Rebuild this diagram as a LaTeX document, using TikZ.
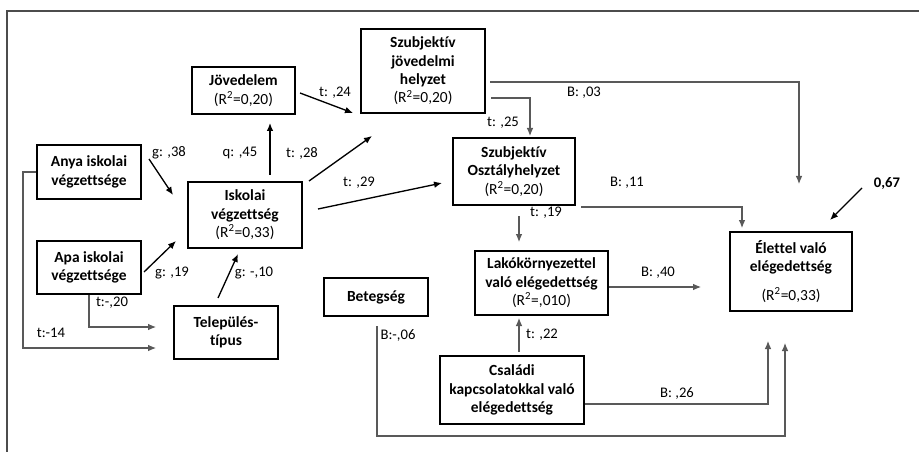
\documentclass[tikz,border=0pt]{standalone}
\usepackage{fontspec}
\setmainfont[Ligatures=NoCommon]{Carlito}
\usetikzlibrary{arrows.meta}

\begin{document}
\begin{tikzpicture}[x=0.75pt,y=-0.75pt,font=\fontsize{11pt}{13.8pt}\selectfont]
\tikzstyle{block} = [rectangle, draw=black, line width=1.5pt, align=center, inner sep=1pt,
font=\fontsize{11.6pt}{13.8pt}\selectfont]
\tikzstyle{coef} = [inner sep=0pt]
\tikzstyle{line} = [draw=black, line width=1pt, -{Latex[length=6pt,width=5pt]}]
\tikzstyle{elbow} = [draw=black!65, line width=0.8pt, -{Latex[length=6pt,width=5pt]}]
\useasboundingbox (0,0) rectangle (919,452);
% frame
\draw[black!70, line width=1.2pt] (7,452) -- (7,11) -- (919,11);

% boxes, left column
\node [block, minimum width=78pt, minimum height=40.5pt] (anya) at (89,172) {\bfseries Anya iskolai\\\bfseries végzettsége};
\node [block, minimum width=78pt, minimum height=39.75pt] (apa) at (89,267.5) {\bfseries Apa iskolai\\\bfseries végzettsége};
% middle
\node [block, minimum width=85.5pt, minimum height=49.5pt] (isk) at (245,215) {\bfseries Iskolai\\\bfseries végzettség\\(R\textsuperscript{2}=0,33)};
\node [block, minimum width=77.25pt, minimum height=35.25pt] (jov) at (243.5,90.5) {\bfseries Jövedelem\\(R\textsuperscript{2}=0,20)};
\node [block, minimum width=78pt, minimum height=39.75pt] (tel) at (226,332.5) {\bfseries Település-\\\bfseries típus};
\node [block, minimum width=78pt, minimum height=28.5pt] (beteg) at (376,297) {\bfseries Betegség};
\node [block, minimum width=93pt, minimum height=63pt] (szjov) at (423,71) {\bfseries Szubjektív\\\bfseries jövedelmi\\\bfseries helyzet\\(R\textsuperscript{2}=0,20)};
\node [block, minimum width=91.5pt, minimum height=50.25pt] (szoszt) at (514,171.5) {\bfseries Szubjektív\\\bfseries Osztályhelyzet\\(R\textsuperscript{2}=0,20)};
\node [block, minimum width=99.75pt, minimum height=48pt] (lako) at (541.5,283) {\bfseries Lakókörnyezettel\\\bfseries való elégedettség\\(R\textsuperscript{2}=,010)};
\node [block, minimum width=108pt, minimum height=51pt] (csal) at (512,390) {\bfseries Családi\\\bfseries kapcsolatokkal való\\\bfseries elégedettség};
% outcome
\node [block, minimum width=91.5pt, minimum height=59.25pt] (elet) at (791,271.5) {\bfseries Élettel való\\\bfseries elégedettség\\[8pt](R\textsuperscript{2}=0,33)};
\coordinate (err) at (862,188);

% coefficients
\node [coef] (c38) at (169,153) {g: ,38};
\node [coef] (c45) at (240,153) {q: ,45};
\node [coef] (c28) at (302,153) {t: ,28};
\node [coef] (c24) at (335,93) {t: ,24};
\node [coef] (c29) at (359,183) {t: ,29};
\node [coef] (c03) at (584,93) {B: ,03};
\node [coef] (c25) at (503,123) {t: ,25};
\node [coef] (c11) at (627,183) {B: ,11};
\node [coef] (c67) at (887,183) {\bfseries 0,67};
\node [coef] (c19a) at (546,213) {t: ,19};
\node [coef] (c19b) at (172,273) {g: ,19};
\node [coef] (c10) at (254,273) {g: -,10};
\node [coef] (c20) at (112,303) {t:-,20};
\node [coef] (c14) at (51,333) {t:-14};
\node [coef] (c06) at (398,335) {B:-,06};
\node [coef] (c40) at (658,273) {B: ,40};
\node [coef] (c22) at (542,335) {t: ,22};
\node [coef] (c26) at (677,393) {B: ,26};

% paths
\draw[line] ([shift={(7,-13)}]anya.east) -- ([shift={(-14,-20)}]isk.west);
\draw[line] ([shift={(2,4.5)}]apa.east) -- ([shift={(-11,-8)}]isk.south west);
\draw[line] ([shift={(-8,-7)}]tel.north) -- ([shift={(-7,5)}]isk.south);
\draw[line] ([shift={(25,-6)}]isk.north) -- ([shift={(26.5,8)}]jov.south);
\draw[line] ([shift={(6,0)}]isk.north east) -- ([shift={(12,22)}]szjov.south west);
\draw[line] ([shift={(15,-6)}]isk.east) -- ([shift={(-10,11.5)}]szoszt.west);
\draw[line] ([shift={(4,2.5)}]jov.east) -- ([shift={(-7,-1)}]szjov.south west);
\draw[line] (err) -- ([shift={(39,-11)}]elet.north);
\draw[elbow] ([shift={(4,11)}]szjov.east) -| ([shift={(8,-47)}]elet.north);
\draw[elbow] ([shift={(5,27)}]szjov.east) -| ([shift={(16,-1)}]szoszt.north);
\draw[elbow] ([shift={(5,1)}]szoszt.south east) -| ([shift={(13,-3)}]elet.north west);
\draw[elbow] ([shift={(5,10)}]szoszt.south) -- ([shift={(-22.5,-8)}]lako.north);
\draw[elbow] ([shift={(0,4)}]lako.east) -- ([shift={(-28,15.5)}]elet.west);
\draw[elbow] ([shift={(7,-3)}]csal.north) -- ([shift={(-22.5,2)}]lako.south);
\draw[elbow] ([shift={(0,14)}]csal.east) -| ([shift={(-23,29)}]elet.south);
\draw[elbow] ([shift={(1,9)}]beteg.south) -- ++(0,110) -| ([shift={(-6,31)}]elet.south);
\draw[elbow] (anya.west) -- ++(-13,0) |- ([shift={(-17,15.5)}]tel.west);
\draw[elbow] (apa.south) |- ([shift={(-17,-5.5)}]tel.west);
\end{tikzpicture}
\end{document}
